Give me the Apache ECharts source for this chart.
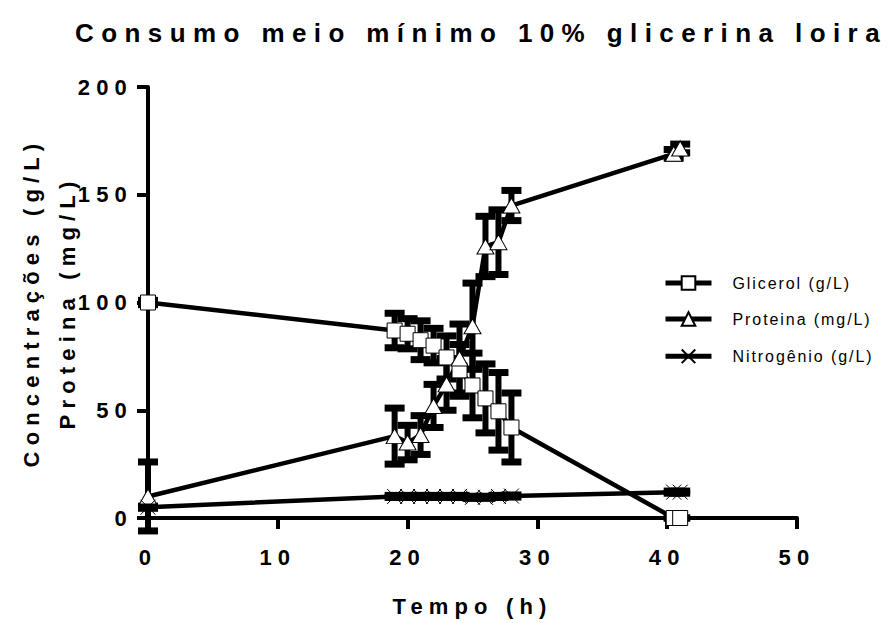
<!DOCTYPE html>
<html>
<head>
<meta charset="utf-8">
<script src="https://cdn.jsdelivr.net/npm/echarts@6/dist/echarts.min.js"></script>
<style>
  html, body { margin: 0; padding: 0; background: #fff; }
  #chart { width: 894px; height: 623px; }
  /* wide tracking of the Prism-style lettering */
  #chart svg text[style*="bold"] { letter-spacing: 0.28em; }
  #chart svg text[style*="26px"] { letter-spacing: 0.285em; }
  #chart svg text:not([style*="bold"]) { letter-spacing: 0.12em; }
</style>
</head>
<body>
<div id="chart"></div>
<script>
// Sampling times (h)
const time = [0, 19, 20, 21, 22, 23, 24, 25, 26, 27, 28, 40.5, 41];

// Means and error (SD) per series
const glicerol     = [100, 87, 85.5, 82.5, 80, 74.5, 68.5, 61.5, 55.5, 49.5, 42, 0, 0];
const glicerolErr  = [1, 8, 7, 9, 8, 10, 12, 15, 16, 18, 16, 0, 0];
const proteina     = [10, 38, 35, 38.5, 52, 62, 74, 89, 126, 128, 145, 169, 171.5];
const proteinaErr  = [16, 13, 8, 9, 10, 12, 16, 20, 14, 15, 7, 2, 2];
const nitrogenio   = [5, 10, 10, 10, 10, 10, 10, 9.6, 9.6, 10, 10.2, 12, 12];
const nitrogenioErr = [0.5, 0.5, 0.5, 0.5, 0.5, 0.5, 0.5, 0.5, 0.5, 0.5, 0.5, 0.5, 0.5];

// Axis ticks
const xTicks = [0, 10, 20, 30, 40, 50];
const yTicks = [0, 50, 100, 150, 200];

const seriesNames = ['Glicerol (g/L)', 'Proteina (mg/L)', 'Nitrogênio (g/L)'];
const titleText = 'Consumo meio mínimo 10% glicerina loira';
const xName = 'Tempo (h)';
const yName = 'Concentrações (g/L)\nProteina (mg/L)';

const FONT = 'Liberation Sans, Arial, sans-serif';
const crossPath = 'path://M0 0L10 10M10 0L0 10';

function pairs(vals) {
  return time.map((t, i) => [t, vals[i]]);
}

function errorBars(name, vals, errs) {
  return {
    type: 'custom',
    name: name + ' SD',
    z: 1,
    silent: true,
    clip: false,
    data: time.map((t, i) => [t, vals[i] - errs[i], vals[i] + errs[i]]),
    renderItem: function (params, api) {
      const x = api.value(0);
      const lo = api.coord([x, api.value(1)]);
      const hi = api.coord([x, api.value(2)]);
      const half = 10;
      return {
        type: 'group',
        children: [
          { type: 'line', shape: { x1: lo[0], y1: lo[1], x2: hi[0], y2: hi[1] },
            style: { stroke: '#000', lineWidth: 6 } },
          { type: 'line', shape: { x1: hi[0] - half, y1: hi[1], x2: hi[0] + half, y2: hi[1] },
            style: { stroke: '#000', lineWidth: 7 } },
          { type: 'line', shape: { x1: lo[0] - half, y1: lo[1], x2: lo[0] + half, y2: lo[1] },
            style: { stroke: '#000', lineWidth: 7 } }
        ]
      };
    }
  };
}

function lineSeries(name, vals, symbol, size, fill) {
  return {
    type: 'line',
    name: name,
    data: pairs(vals),
    symbol: symbol,
    symbolSize: size,
    z: 3,
    lineStyle: { color: '#000', width: 4.5 },
    itemStyle: { color: fill, borderColor: '#000', borderWidth: 1 }
  };
}

const chart = echarts.init(document.getElementById('chart'), null, { renderer: 'svg' });

chart.setOption({
  animation: false,
  backgroundColor: '#fff',
  title: {
    text: titleText,
    left: 476,
    top: 15,
    textAlign: 'center',
    textStyle: { fontFamily: FONT, fontSize: 26, fontWeight: 'bold', color: '#000' }
  },
  legend: {
    orient: 'vertical',
    left: 658,
    top: 270,
    itemWidth: 46,
    itemHeight: 17,
    itemGap: 20,
    data: seriesNames,
    lineStyle: { width: 5, color: '#000' },
    textStyle: { fontFamily: FONT, fontSize: 16, color: '#000', padding: [0, 0, 0, 16] }
  },
  grid: { left: 148, right: 97, top: 87, bottom: 105, containLabel: false },
  xAxis: {
    type: 'value',
    min: xTicks[0],
    max: xTicks[xTicks.length - 1],
    interval: xTicks[1] - xTicks[0],
    name: xName,
    nameLocation: 'middle',
    nameGap: 77,
    nameTextStyle: { fontFamily: FONT, fontSize: 22, fontWeight: 'bold', color: '#000' },
    axisLine: { lineStyle: { color: '#000', width: 4 } },
    axisTick: { length: 11, lineStyle: { color: '#000', width: 4 } },
    axisLabel: { margin: 28, fontFamily: FONT, fontSize: 22, fontWeight: 'bold', color: '#000' },
    splitLine: { show: false }
  },
  yAxis: {
    type: 'value',
    min: yTicks[0],
    max: yTicks[yTicks.length - 1],
    interval: yTicks[1] - yTicks[0],
    name: yName,
    nameLocation: 'middle',
    nameRotate: 90,
    nameGap: 62,
    nameTextStyle: { fontFamily: FONT, fontSize: 22, fontWeight: 'bold', color: '#000', lineHeight: 36 },
    axisLine: { show: true, lineStyle: { color: '#000', width: 4 } },
    axisTick: { show: true, length: 11, lineStyle: { color: '#000', width: 4 } },
    axisLabel: { margin: 15, fontFamily: FONT, fontSize: 22, fontWeight: 'bold', color: '#000' },
    splitLine: { show: false }
  },
  series: [
    errorBars(seriesNames[0], glicerol, glicerolErr),
    errorBars(seriesNames[1], proteina, proteinaErr),
    errorBars(seriesNames[2], nitrogenio, nitrogenioErr),
    lineSeries(seriesNames[0], glicerol, 'rect', 15, '#fff'),
    lineSeries(seriesNames[1], proteina, 'triangle', [17, 15], '#fff'),
    lineSeries(seriesNames[2], nitrogenio, crossPath, 15, 'none')
  ]
});
</script>
</body>
</html>
